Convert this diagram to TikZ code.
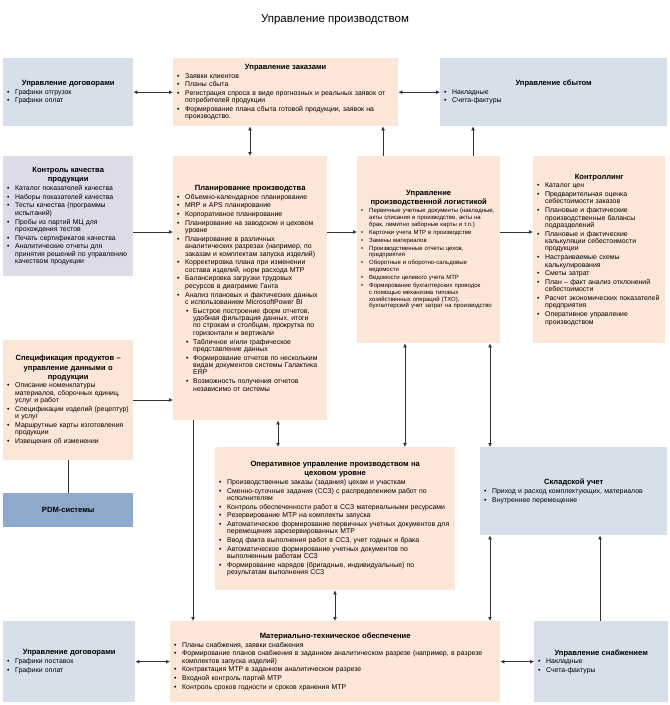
\documentclass[tikz,border=0pt]{standalone}
\usepackage{fontspec}
\setmainfont{Liberation Sans}
\usetikzlibrary{arrows.meta}
\newcommand\itm[1]{\vskip1.3pt\leftskip=8pt\noindent\llap{\makebox[8pt][l]{\textbullet}}#1\par}
\newcommand\subitm[1]{\vskip1.3pt\leftskip=16pt\noindent\llap{\makebox[7pt][l]{\textbullet}}#1\par}
\newcommand\ttl[1]{{\centering\fontsize{7.6}{9.2}\selectfont\bfseries #1\par}}
\definecolor{pk}{HTML}{FCE6D8}
\definecolor{bl}{HTML}{D7DFEA}
\definecolor{lv}{HTML}{DEDAE8}
\definecolor{pdm}{HTML}{8EA9CB}
\tikzset{
    x=1pt, y=-1pt,
    bx/.style={anchor=north west, inner sep=4pt, align=left, font=\fontsize{6.9}{7.4}\selectfont},
    arr/.style={draw=black!80, line width=0.8pt, -{Latex[length=4pt,width=4pt]}},
    darr/.style={draw=black!80, line width=0.8pt, {Latex[length=4pt,width=4pt]}-{Latex[length=4pt,width=4pt]}}
}
\begin{document}
\begin{tikzpicture}
    \useasboundingbox[fill=white] (0,0) rectangle (670,705);
    \node (title) at (335,20) {\fontsize{11.5}{13}\selectfont Управление производством};
    % top row
    \node[bx, fill=bl, minimum width=130, minimum height=68, text width=122] (contr) at (3,58)
        {\ttl{Управление договорами}\itm{Графики отгрузок}\itm{Графики оплат}};
    \node[bx, fill=pk, minimum width=225, minimum height=68, text width=217] (orders) at (173,58)
        {\ttl{Управление заказами}\itm{Заявки клиентов}\itm{Планы сбыта}
         \itm{Регистрация спроса в виде прогнозных и реальных заявок от потребителей продукции}
         \itm{Формирование плана сбыта готовой продукции, заявок на производство.}};
    \node[bx, fill=bl, minimum width=227, minimum height=68, text width=219] (sales) at (440,58)
        {\ttl{Управление сбытом}\itm{Накладные}\itm{Счета-фактуры}};
    % middle row
    \node[bx, fill=lv, minimum width=130, minimum height=120, text width=122] (qual) at (3,156)
        {\ttl{Контроль качества\\продукции}\itm{Каталог показателей качества}\itm{Наборы показателей качества}
         \itm{Тесты качества (программы испытаний)}\itm{Пробы из партий МЦ для прохождения тестов}
         \itm{Печать сертификатов качества}\itm{Аналитические отчеты для принятия решений по управлению качеством продукции}};
    \node[bx, fill=pk, minimum width=154, minimum height=264, text width=146] (plan) at (173,156)
        {\ttl{Планирование производства}\itm{Объемно-календарное планирование}\itm{MRP и APS планирование}
         \itm{Корпоративное планирование}\itm{Планирование на заводском и цеховом уровне}
         \itm{Планирование в различных аналитических разрезах (например, по заказам и комплектам запуска изделий)}
         \itm{Корректировка плана при изменении состава изделий, норм расхода МТР}
         \itm{Балансировка загрузки трудовых ресурсов в диаграмме Ганта}
         \itm{Анализ плановых и фактических данных с использованием MicrosoftPower BI}
         \subitm{Быстрое построение форм отчетов, удобная фильтрация данных, итоги по строкам и столбцам, прокрутка по горизонтали и вертикали}
         \subitm{Табличное и/или графическое представление данных}
         \subitm{Формирование отчетов по нескольким видам документов системы Галактика ERP}
         \subitm{Возможность получения отчетов независимо от системы}};
    \node[bx, fill=pk, minimum width=143, minimum height=187, text width=135, font=\fontsize{6}{6.7}\selectfont] (logi) at (357,156)
        {\ttl{Управление\\производственной логистикой}
         \itm{Первичные учетные документы (накладные, акты списания в производстве, акты на брак, лимитно заборные карты и т.п.)}
         \itm{Карточки учета МТР в производстве}\itm{Замены материалов}
         \itm{Производственные отчеты цехов, предприятия}\itm{Оборотные и оборотно-сальдовые ведомости}
         \itm{Ведомости целевого учета МТР}
         \itm{Формирование бухгалтерских проводок с помощью механизма типовых хозяйственных операций (ТХО), бухгалтерский учет затрат на производство}};
    \node[bx, fill=pk, minimum width=132, minimum height=187, text width=124] (ctrl) at (533,156)
        {\ttl{Контроллинг}\itm{Каталог цен}\itm{Предварительная оценка себестоимости заказов}
         \itm{Плановые и фактические производственные балансы подразделений}
         \itm{Плановые и фактические калькуляции себестоимости продукции}
         \itm{Настраиваемые схемы калькулирования}\itm{Сметы затрат}
         \itm{План – факт анализ отклонений себестоимости}\itm{Расчет экономических показателей предприятия}
         \itm{Оперативное управление производством}};
    \node[bx, fill=pk, minimum width=130, minimum height=120, text width=122] (spec) at (3,340)
        {\ttl{Спецификация продуктов –\\управление данными о\\продукции}
         \itm{Описание номенклатуры материалов, сборочных единиц, услуг и работ}
         \itm{Спецификации изделий (рецептур) и услуг}\itm{Маршрутные карты изготовления продукции}
         \itm{Извещения об изменении}};
    \node[bx, fill=pdm, minimum width=130, minimum height=34, text width=122, align=center] (pdm) at (3,493)
        {\fontsize{7.6}{9}\selectfont\bfseries PDM-системы};
    \node[bx, fill=pk, minimum width=240, minimum height=143, text width=232] (oper) at (215,447)
        {\ttl{Оперативное управление производством на\\цеховом уровне}
         \itm{Производственные заказы (задания) цехам и участкам}
         \itm{Сменно-суточные задания (ССЗ) с распределением работ по исполнителям}
         \itm{Контроль обеспеченности работ в ССЗ материальными ресурсами}
         \itm{Резервирование МТР на комплекты запуска}
         \itm{Автоматическое формирование первичных учетных документов для перемещения зарезервированных МТР}
         \itm{Ввод факта выполнения работ в ССЗ, учет годных и брака}
         \itm{Автоматическое формирование учетных документов по выполненным работам ССЗ}
         \itm{Формирование нарядов (бригадные, индивидуальные) по результатам выполнения ССЗ}};
    \node[bx, fill=bl, minimum width=187, minimum height=88, text width=179] (store) at (480,447)
        {\ttl{Складской учет}\itm{Приход и расход комплектующих, материалов}\itm{Внутреннее перемещение}};
    % bottom row
    \node[bx, fill=bl, minimum width=132, minimum height=81, text width=124] (contr2) at (3,621)
        {\ttl{Управление договорами}\itm{Графики поставок}\itm{Графики оплат}};
    \node[bx, fill=pk, minimum width=330, minimum height=81, text width=322] (mto) at (170,621)
        {\ttl{Материально-техническое обеспечение}\itm{Планы снабжения, заявки снабжения}
         \itm{Формирование планов снабжения в заданном аналитическом разрезе (например, в разрезе комплектов запуска изделий)}
         \itm{Контрактация МТР в заданном аналитическом разрезе}\itm{Входной контроль партий МТР}
         \itm{Контроль сроков годности и сроков хранения МТР}};
    \node[bx, fill=bl, minimum width=134, minimum height=81, text width=126] (supp) at (534,621)
        {\ttl{Управление снабжением}\itm{Накладные}\itm{Счета-фактуры}};
    % connectors
    \draw[darr] (contr.east) -- (orders.west |- contr.east);
    \draw[darr] (orders.east |- sales.west) -- (sales.west);
    \draw[darr] (orders.south -| 250,0) -- (plan.north -| 250,0);
    \draw[arr] (logi.north -| 383,0) -- (orders.south -| 383,0);
    \draw[arr] (logi.north -| 473,0) -- (sales.south -| 473,0);
    \draw[arr] (qual.east |- 0,232) -- (plan.west |- 0,232);
    \draw[arr] (plan.east |- 0,232) -- (logi.west |- 0,232);
    \draw[arr] (logi.east |- 0,232) -- (ctrl.west |- 0,232);
    \draw[arr] (spec.east |- 0,400) -- (plan.west |- 0,400);
    \draw[draw=black!80, line width=0.8pt] (pdm.north) -- (spec.south);
    \draw[darr] (plan.south -| 278,0) -- (oper.north -| 278,0);
    \draw[arr] (plan.south -| 193,0) -- (mto.north -| 193,0);
    \draw[darr] (logi.south -| 405,0) -- (oper.north -| 405,0);
    \draw[darr] (logi.south -| 490,0) -- (store.north -| 490,0);
    \draw[darr] (oper.south -| 335,0) -- (mto.north -| 335,0);
    \draw[darr] (store.south -| 490,0) -- (mto.north -| 490,0);
    \draw[arr] (supp.north -| 600,0) -- (store.south -| 600,0);
    \draw[darr] (contr2.east) -- (mto.west |- contr2.east);
    \draw[darr] (mto.east |- supp.west) -- (supp.west);
\end{tikzpicture}
\end{document}
